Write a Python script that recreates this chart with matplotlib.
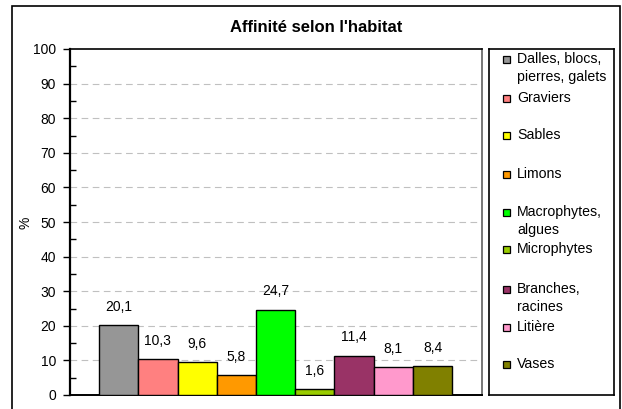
import matplotlib
matplotlib.use("Agg")
import matplotlib.pyplot as plt
from matplotlib.patches import Rectangle
from matplotlib.ticker import MultipleLocator

plt.rcParams['font.family'] = ['Liberation Sans', 'DejaVu Sans']

categories = ["Dalles, blocs,\npierres, galets", "Graviers", "Sables", "Limons",
              "Macrophytes,\nalgues", "Microphytes", "Branches,\nracines",
              "Litière", "Vases"]
values = [20.1, 10.3, 9.6, 5.8, 24.7, 1.6, 11.4, 8.1, 8.4]
value_labels = ["20,1", "10,3", "9,6", "5,8", "24,7", "1,6", "11,4", "8,1", "8,4"]
colors = ["#969696", "#FF8080", "#FFFF00", "#FF9900", "#00FF00",
          "#99CC00", "#993366", "#FF99CC", "#808000"]

W, H = 622, 409
fig = plt.figure(figsize=(W / 100, H / 100), dpi=100)

# outer frame
fig.patches.append(Rectangle((12 / W, -0.05), (620 - 12) / W, (H - 6) / H + 0.05,
                             transform=fig.transFigure, fill=False,
                             edgecolor="black", linewidth=1.2))

ax = fig.add_axes([70 / W, (H - 395) / H, (482 - 70) / W, (395 - 49) / H])
x = list(range(len(values)))
ax.bar(x, values, width=1.0, color=colors, edgecolor="black", linewidth=1.0, zorder=3)
for xi, v, lab in zip(x, values, value_labels):
    ax.annotate(lab, (xi, v), xytext=(0, 8), textcoords="offset points",
                ha="center", va="bottom", fontsize=10)

ax.set_xlim(-1.24, 9.26)
ax.set_ylim(0, 100)
ax.yaxis.set_major_locator(MultipleLocator(10))
ax.yaxis.set_minor_locator(MultipleLocator(5))
ax.tick_params(axis="y", which="major", direction="out", length=5, width=1,
               labelsize=10, pad=5)
ax.tick_params(axis="y", which="minor", direction="in", length=4, width=1)
ax.set_xticks([])
for g in range(10, 100, 10):
    ax.axhline(g, color="#C0C0C0", linestyle=(0, (6, 4)), linewidth=0.8, zorder=1)
ax.spines["left"].set_linewidth(1.6)
ax.spines["bottom"].set_linewidth(1.4)
ax.spines["top"].set_linewidth(1.2)
ax.spines["right"].set_color("#606060")
ax.spines["right"].set_linewidth(1.2)

fig.text(25 / W, 1 - 223 / H, "%", rotation=90, ha="center", va="center", fontsize=10)
fig.text(316.5 / W, 1 - 28 / H, "Affinité selon l'habitat", ha="center", va="center",
         fontsize=12, fontweight="bold")

# legend box
lx0, lx1, ly0, ly1 = 489, 614, 49, 395
lax = fig.add_axes([lx0 / W, (H - ly1) / H, (lx1 - lx0) / W, (ly1 - ly0) / H])
lax.set_xlim(lx0, lx1)
lax.set_ylim(ly1, ly0)
lax.set_xticks([])
lax.set_yticks([])
for s in lax.spines.values():
    s.set_linewidth(1.2)
entry_y = [59, 98, 135, 174, 212, 249, 289, 327, 364]
for ey, lab, c in zip(entry_y, categories, colors):
    lax.add_patch(Rectangle((503, ey - 3.5), 7, 7, facecolor=c,
                            edgecolor="black", linewidth=0.9))
    for k, line in enumerate(lab.split("\n")):
        lax.text(517, ey + 18 * k, line, ha="left", va="center", fontsize=10.2)

fig.savefig("out.png", dpi=100)
